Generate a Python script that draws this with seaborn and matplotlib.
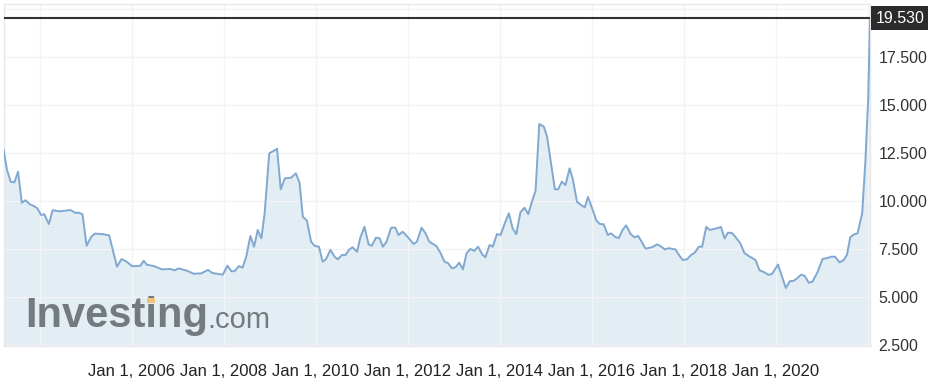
import numpy as np
import pandas as pd
import matplotlib
matplotlib.use("Agg")
import matplotlib.pyplot as plt
from matplotlib.patches import Rectangle
import seaborn as sns

# decimal-year positions of the line vertices and their values
years = [2003.21, 2003.29, 2003.37, 2003.45, 2003.53, 2003.61, 2003.69, 2003.78, 2003.87, 2003.95,
         2004.03, 2004.10, 2004.20, 2004.28, 2004.43, 2004.67, 2004.78, 2004.85, 2004.93, 2005.02,
         2005.12, 2005.20, 2005.35, 2005.51, 2005.68, 2005.78, 2005.90, 2006.01, 2006.19, 2006.26,
         2006.33, 2006.48, 2006.66, 2006.84, 2006.93, 2007.02, 2007.20, 2007.35, 2007.51, 2007.66,
         2007.75, 2007.89, 2007.98, 2008.08, 2008.17, 2008.24, 2008.33, 2008.41, 2008.49, 2008.58,
         2008.66, 2008.74, 2008.82, 2008.89, 2008.99, 2009.16, 2009.24, 2009.33, 2009.46, 2009.57,
         2009.65, 2009.72, 2009.81, 2009.90, 2009.98, 2010.07, 2010.15, 2010.22, 2010.32, 2010.41,
         2010.48, 2010.57, 2010.65, 2010.72, 2010.80, 2010.90, 2010.97, 2011.06, 2011.15, 2011.22,
         2011.31, 2011.39, 2011.46, 2011.54, 2011.64, 2011.73, 2011.80, 2011.89, 2011.98, 2012.13,
         2012.20, 2012.30, 2012.38, 2012.47, 2012.62, 2012.71, 2012.80, 2012.88, 2012.96, 2013.04,
         2013.12, 2013.20, 2013.28, 2013.36, 2013.45, 2013.53, 2013.62, 2013.69, 2013.78, 2013.85,
         2013.94, 2014.02, 2014.11, 2014.20, 2014.28, 2014.36, 2014.45, 2014.54, 2014.62, 2014.70,
         2014.78, 2014.86, 2014.96, 2015.03, 2015.20, 2015.27, 2015.35, 2015.43, 2015.52, 2015.59,
         2015.68, 2015.77, 2015.85, 2015.92, 2016.01, 2016.10, 2016.18, 2016.26, 2016.35, 2016.42,
         2016.51, 2016.59, 2016.67, 2016.75, 2016.85, 2016.93, 2017.01, 2017.09, 2017.17, 2017.31,
         2017.42, 2017.49, 2017.59, 2017.67, 2017.82, 2017.91, 2017.98, 2018.07, 2018.16, 2018.24,
         2018.33, 2018.40, 2018.49, 2018.57, 2018.65, 2018.74, 2018.81, 2018.89, 2018.96, 2019.05,
         2019.12, 2019.23, 2019.32, 2019.43, 2019.56, 2019.65, 2019.75, 2019.85, 2019.92, 2020.05,
         2020.22, 2020.31, 2020.38, 2020.45, 2020.55, 2020.63, 2020.72, 2020.80, 2020.91, 2021.02,
         2021.11, 2021.21, 2021.29, 2021.39, 2021.48, 2021.55, 2021.62, 2021.70, 2021.78, 2021.88,
         2021.95, 2022.01, 2022.05]

values = [12.74, 11.61, 11.01, 10.97, 11.53, 9.91, 10.04, 9.84, 9.74, 9.62,
          9.27, 9.31, 8.80, 9.52, 9.46, 9.53, 9.38, 9.39, 9.31, 7.67,
          8.14, 8.30, 8.28, 8.21, 6.58, 6.98, 6.82, 6.60, 6.63, 6.89,
          6.68, 6.61, 6.44, 6.46, 6.39, 6.49, 6.37, 6.21, 6.23, 6.41,
          6.25, 6.20, 6.16, 6.63, 6.34, 6.35, 6.61, 6.53, 7.10, 8.18,
          7.62, 8.49, 8.06, 9.36, 12.48, 12.72, 10.61, 11.18, 11.21, 11.44,
          10.94, 9.18, 8.97, 7.88, 7.66, 7.62, 6.84, 6.96, 7.45, 7.10,
          6.96, 7.19, 7.19, 7.45, 7.59, 7.36, 8.09, 8.66, 7.74, 7.67,
          8.09, 8.06, 7.62, 7.88, 8.61, 8.61, 8.23, 8.40, 8.18, 7.76,
          7.88, 8.61, 8.35, 7.88, 7.66, 7.31, 6.84, 6.76, 6.49, 6.55,
          6.79, 6.44, 7.28, 7.50, 7.40, 7.62, 7.22, 7.07, 7.71, 7.62,
          8.28, 8.23, 8.84, 9.36, 8.58, 8.27, 9.41, 9.65, 9.32, 9.96,
          10.54, 14.01, 13.87, 13.35, 10.61, 10.61, 11.01, 10.83, 11.70, 11.13,
          9.96, 9.79, 9.67, 10.21, 9.61, 8.99, 8.80, 8.79, 8.23, 8.32,
          8.13, 8.07, 8.49, 8.73, 8.27, 8.11, 8.18, 7.86, 7.52, 7.59,
          7.74, 7.66, 7.48, 7.54, 7.48, 7.14, 6.93, 6.96, 7.19, 7.31,
          7.62, 7.62, 8.65, 8.49, 8.54, 8.59, 8.65, 8.05, 8.35, 8.33,
          8.14, 7.80, 7.29, 7.11, 6.93, 6.39, 6.29, 6.15, 6.20, 6.69,
          5.47, 5.83, 5.83, 5.94, 6.16, 6.10, 5.74, 5.80, 6.30, 6.99,
          7.02, 7.10, 7.10, 6.80, 6.93, 7.20, 8.11, 8.26, 8.32, 9.36,
          12.08, 15.26, 19.53]

last_value = 19.53
y_ticks = [2.5, 5.0, 7.5, 10.0, 12.5, 15.0, 17.5]
x_ticks = [2006, 2008, 2010, 2012, 2014, 2016, 2018, 2020]
x_tick_labels = ["Jan 1, 2006", "Jan 1, 2008", "Jan 1, 2010", "Jan 1, 2012",
                 "Jan 1, 2014", "Jan 1, 2016", "Jan 1, 2018", "Jan 1, 2020"]
grid_x = [2004, 2006, 2008, 2010, 2012, 2014, 2016, 2018, 2020, 2022]
grid_y = [2.5, 5.0, 7.5, 10.0, 12.5, 15.0, 17.5, 20.0]

df = pd.DataFrame({"year": years, "value": values})

sns.set_theme(style="white")
plt.rcParams["font.family"] = ["Liberation Sans", "DejaVu Sans"]

fig = plt.figure(figsize=(9.29, 3.87), dpi=100)
ax = fig.add_axes([4 / 929, 1 - 346 / 387, 866 / 929, 342 / 387])

LINE = "#80a8d0"
FILL = "#e3edf4"

ax.fill_between(df["year"], 2.5 - 5, df["value"], color=FILL, linewidth=0, zorder=1)
sns.lineplot(data=df, x="year", y="value", ax=ax, color=LINE, linewidth=1.4, zorder=3)

x_right = years[-1]
ax.set_xlim(x_right - 866 / 46, x_right)
ax.set_ylim(2.5 - 1 / 19.2, 2.5 + 341 / 19.2)

for gx in grid_x:
    ax.axvline(gx, color="#f3f4f6", linewidth=1, zorder=2)
for gy in grid_y:
    ax.axhline(gy, color="#f3f4f6", linewidth=1, zorder=2)

ax.axhline(last_value, color="#333333", linewidth=1.5, zorder=4)

ax.set_xticks(x_ticks)
ax.set_xticklabels(x_tick_labels)
ax.set_yticks(y_ticks)
ax.set_yticklabels([f"{v:.3f}" for v in y_ticks])
ax.yaxis.tick_right()
ax.tick_params(axis="y", length=0, pad=6, labelsize=11.5, labelcolor="#333333")
ax.tick_params(axis="x", length=0, pad=13, labelsize=12, labelcolor="#222222")
ax.set_xlabel("")
ax.set_ylabel("")

for s in ax.spines.values():
    s.set_color("#e6e8ec")
    s.set_linewidth(1)

ax.annotate(f"{last_value:.3f}", xy=(1.0, last_value), xycoords=ax.get_yaxis_transform(),
            xytext=(4, 0), textcoords="offset points",
            ha="left", va="center", fontsize=11.5, color="white",
            bbox=dict(boxstyle="square,pad=0.3", facecolor="#2b2b2b", edgecolor="none"),
            zorder=6, annotation_clip=False)

# watermark
ax.text(0.025, 0.03, "Investing", transform=ax.transAxes, fontsize=30, fontweight="heavy",
        color="#757a80", ha="left", va="bottom", zorder=5)
ax.text(0.235, 0.035, ".com", transform=ax.transAxes, fontsize=21,
        color="#757a80", ha="left", va="bottom", zorder=5)
ax.add_patch(Rectangle((0.165, 0.125), 0.009, 0.014, transform=ax.transAxes,
                       facecolor="#f2c27a", edgecolor="none", zorder=5))

fig.savefig("out.png", dpi=100)
